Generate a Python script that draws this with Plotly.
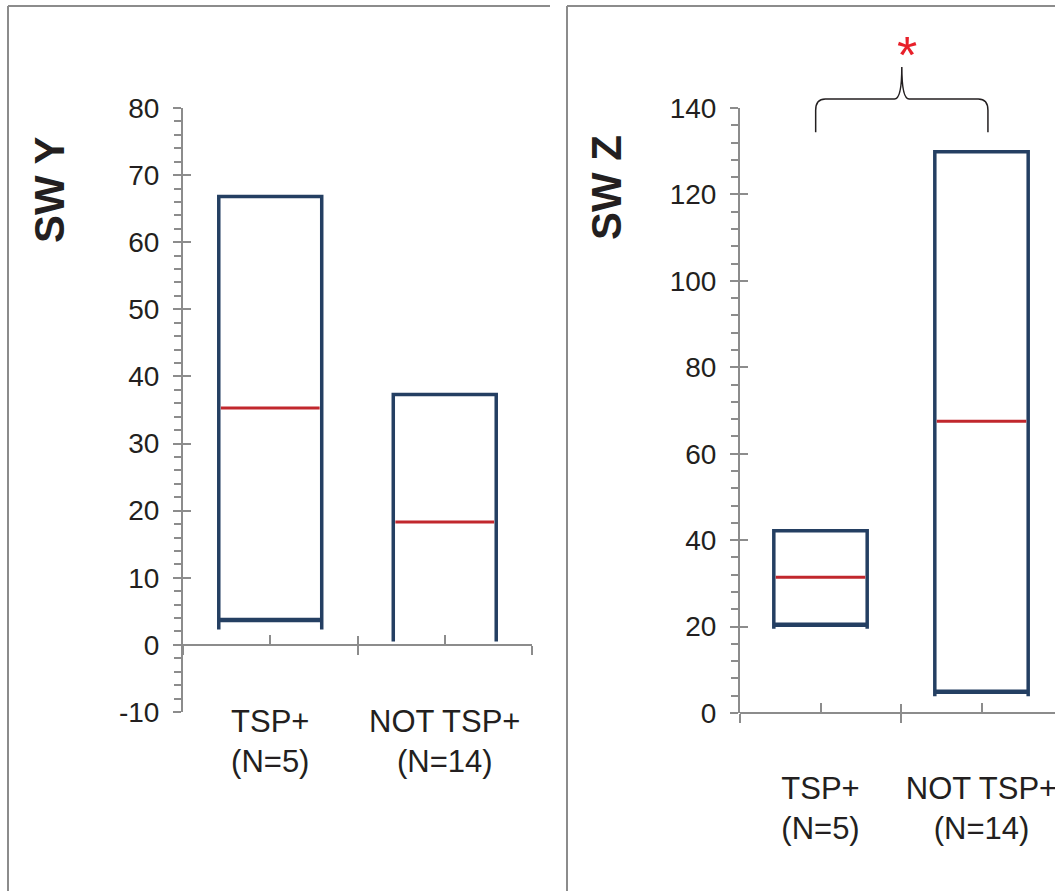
import plotly.graph_objects as go

# ---------------- data ----------------
categories = ["TSP+<br>(N=5)", "NOT TSP+<br>(N=14)"]
cat_pos = [0, 1]

# Panel "SW Y"
swy_top = [66.8, 37.3]
swy_median = [35.3, 18.3]
swy_bottom = [3.7, None]
swy_side_end = [2.3, 0.5]
swy_ticks = [-10, 0, 10, 20, 30, 40, 50, 60, 70, 80]

# Panel "SW Z"
swz_top = [42.2, 129.9]
swz_median = [31.4, 67.5]
swz_bottom = [20.4, 4.9]
swz_side_end = [19.5, 3.9]
swz_ticks = [0, 20, 40, 60, 80, 100, 120, 140]

# significance bracket (SW Z): from / to (category units), levels (data units)
sig_x = [-0.03, 1.04]
sig_levels = [134.4, 142.1, 149.5]   # brace ends, brace bar, brace tip
sig_label = "*"

# ---------------- style ----------------
W, H = 1055, 891
NAVY = "#243F62"
RED = "#C1272D"
GRAY = "#8C8C8C"
TXT = "#231F20"
FONT = "Liberation Sans, Arial, sans-serif"


def px(x):
    return x / W


def py(y):
    return 1 - y / H


panels = [
    dict(name="SW Y", xa="x", ya="y", top=swy_top, med=swy_median, bot=swy_bottom,
         side=swy_side_end, ticks=swy_ticks, yrange=[-10, 80], minor=2,
         xdom=[px(183), px(532)], xrange=[-0.5, 1.5], ydom=[py(712), py(108)],
         hw=0.295, labpos=py(700), title_xy=(49, 190)),
    dict(name="SW Z", xa="x2", ya="y2", top=swz_top, med=swz_median, bot=swz_bottom,
         side=swz_side_end, ticks=swz_ticks, yrange=[0, 140], minor=4,
         xdom=[px(740), 1.0], xrange=[-0.5, -0.5 + (W - 740) / 161.0], ydom=[py(713), py(108)],
         hw=0.29, labpos=py(767), title_xy=(606, 188)),
]

fig = go.Figure()
layout = dict(
    width=W, height=H, autosize=False,
    margin=dict(l=0, r=0, t=0, b=0, pad=0, autoexpand=False),
    paper_bgcolor="white", plot_bgcolor="white", showlegend=False,
    font=dict(family=FONT, color=TXT),
    shapes=[], annotations=[],
)

extra_axis_ids = [(3, 3), (5, 4)]  # (first overlay x id, overlay y id)

for i, p in enumerate(panels):
    xa, ya = p["xa"], p["ya"]
    for c, t, m, b, s in zip(cat_pos, p["top"], p["med"], p["bot"], p["side"]):
        x0, x1 = c - p["hw"], c + p["hw"]
        fig.add_trace(go.Scatter(x=[x0, x0, x1, x1], y=[s, t, t, s], mode="lines",
                                 line=dict(color=NAVY, width=3.5), xaxis=xa, yaxis=ya,
                                 hoverinfo="skip"))
        if b is not None:
            fig.add_trace(go.Scatter(x=[x0, x1], y=[b, b], mode="lines",
                                     line=dict(color=NAVY, width=4.5), xaxis=xa, yaxis=ya,
                                     hoverinfo="skip"))
        fig.add_trace(go.Scatter(x=[x0 + 0.012, x1 - 0.012], y=[m, m], mode="lines",
                                 line=dict(color=RED, width=3), xaxis=xa, yaxis=ya,
                                 hoverinfo="skip"))

    y0, y1 = p["yrange"]
    d0, d1 = p["ydom"]
    zero_pos = d0 + (0 - y0) / (y1 - y0) * (d1 - d0)
    xkey = "xaxis" if xa == "x" else "xaxis" + xa[1:]
    ykey = "yaxis" if ya == "y" else "yaxis" + ya[1:]
    bounds = [-0.5, 0.5, 1.5]

    # category label axis
    layout[xkey] = dict(domain=p["xdom"], range=p["xrange"], anchor="free", position=p["labpos"],
                        showline=False, ticks="", tickmode="array", tickvals=cat_pos,
                        ticktext=categories, tickfont=dict(size=31, color=TXT, family=FONT),
                        ticklabeloverflow="allow",
                        showgrid=False, zeroline=False, fixedrange=True)
    layout[ykey] = dict(domain=p["ydom"], range=p["yrange"], anchor=xa, showline=True,
                        linecolor=GRAY, linewidth=2, ticks="outside", ticklen=8, tickwidth=2,
                        tickcolor=GRAY, tickmode="array", tickvals=p["ticks"],
                        ticktext=[str(v) for v in p["ticks"]],
                        tickfont=dict(size=28, color=TXT, family=FONT),
                        minor=dict(ticks="outside", ticklen=7, tickwidth=1.5, tickcolor=GRAY,
                                   dtick=p["minor"], tick0=0, showgrid=False),
                        showgrid=False, zeroline=False, fixedrange=True, ticklabelstandoff=8)

    ox, oy = extra_axis_ids[i]
    # axis line at zero, outside boundary ticks, inside centre ticks
    layout["xaxis%d" % ox] = dict(overlaying=xa, range=p["xrange"], anchor="free", position=zero_pos,
                                  showline=True, linecolor=GRAY, linewidth=2, ticks="outside",
                                  ticklen=9, tickwidth=2, tickcolor=GRAY, tickmode="array",
                                  tickvals=bounds, showticklabels=False, showgrid=False,
                                  zeroline=False, fixedrange=True,
                                  minor=dict(ticks="inside", ticklen=9, tickwidth=2, tickcolor=GRAY,
                                             tickmode="array", tickvals=cat_pos, showgrid=False))
    layout["xaxis%d" % (ox + 1)] = dict(overlaying=xa, range=p["xrange"], anchor="free",
                                        position=zero_pos, showline=False, ticks="inside",
                                        ticklen=9, tickwidth=2, tickcolor=GRAY, tickmode="array",
                                        tickvals=bounds, showticklabels=False, showgrid=False,
                                        zeroline=False, fixedrange=True)
    layout["yaxis%d" % oy] = dict(overlaying=ya, range=p["yrange"], anchor=xa, showline=False,
                                  ticks="inside", ticklen=8, tickwidth=2, tickcolor=GRAY,
                                  tickmode="array", tickvals=p["ticks"], showticklabels=False,
                                  showgrid=False, zeroline=False, fixedrange=True)
    for xx, yy in [("x%d" % ox, ya), ("x%d" % (ox + 1), ya), (xa, "y%d" % oy)]:
        fig.add_trace(go.Scatter(x=[None], y=[None], xaxis=xx, yaxis=yy, hoverinfo="skip",
                                 mode="lines"))

    # axis title
    tx, ty = p["title_xy"]
    layout["annotations"].append(dict(text="<b>%s</b>" % p["name"], x=px(tx), y=py(ty),
                                      xref="paper", yref="paper", textangle=-90, showarrow=False,
                                      font=dict(size=42, color=TXT, family=FONT),
                                      xanchor="center", yanchor="middle"))

# panel frames
for (lx, rx) in [(8, 550), (567, W)]:
    layout["shapes"].append(dict(type="line", xref="paper", yref="paper", x0=px(lx), x1=px(rx),
                                 y0=py(6), y1=py(6), line=dict(color=GRAY, width=2)))
    layout["shapes"].append(dict(type="line", xref="paper", yref="paper", x0=px(lx), x1=px(lx),
                                 y0=py(6), y1=0, line=dict(color=GRAY, width=2)))

# significance brace on SW Z panel
zr0, zr1 = panels[1]["yrange"]


def fy(v):
    return (v - zr0) / (zr1 - zr0)


xl, xr = sig_x
ye, yb, yt = sig_levels
xm = (xl + xr) / 2
cx = 0.06
cy = 2.6
path = ("M {a},{b} L {a},{c} Q {a},{d} {e},{d} L {f},{d} Q {m},{d} {m},{t} "
        "Q {m},{d} {g},{d} L {h},{d} Q {r},{d} {r},{c} L {r},{b}").format(
    a=xl, b=fy(ye), c=fy(yb - cy), d=fy(yb), e=xl + cx, f=xm - 0.045, m=xm, t=fy(yt),
    g=xm + 0.045, h=xr - cx, r=xr)
layout["shapes"].append(dict(type="path", path=path, xref="x2", yref="y2 domain",
                             line=dict(color=TXT, width=1.5)))
layout["annotations"].append(dict(text=sig_label, x=xm + 0.03, y=fy(152.3), xref="x2",
                                  yref="y2 domain", showarrow=False,
                                  font=dict(size=52, color="#E8202A", family=FONT),
                                  xanchor="center", yanchor="middle"))

fig.update_layout(**layout)
fig.write_html("out.html")
